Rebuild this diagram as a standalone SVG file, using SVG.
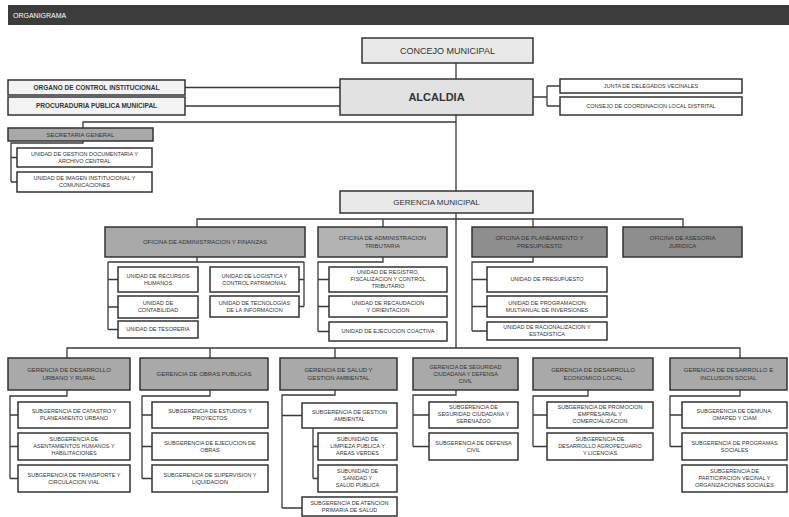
<svg xmlns="http://www.w3.org/2000/svg" width="789" height="517" viewBox="0 0 789 517">
<style>
.b{stroke:#333;stroke-width:1.5}
.w{fill:#fff}
.l1{fill:#e8e8e8}
.g1{fill:#a9a9a9}
.g2{fill:#b3b3b3}
.g3{fill:#8e8e8e}
.pl{fill:#f3f3f3}
text{font-family:"Liberation Sans",Arial,sans-serif;fill:#333;text-anchor:middle}
.s{font-size:5.5px}
.m{font-size:6px}
.c path{fill:none;stroke:#3a3a3a;stroke-width:1.3}
</style>
<rect x="0" y="0" width="789" height="517" fill="#fff"/>
<g id="header">
<rect x="8" y="5" width="781" height="20" fill="#3c3c3c"/>
<text x="13" y="18" style="font-size:7px;fill:#fff;text-anchor:start">ORGANIGRAMA</text>
</g>
<g class="c" id="connectors">
<path d="M456 63V79M456 115V191M456 213V348"/>
<path d="M185 87.5H340M185 106H340M83 128V122H456"/>
<path d="M83 141V143H11V182M11 157.5H17M11 182H17"/>
<path d="M533 97H547M547 86V106M547 86H560M547 106H560"/>
<path d="M197 227V219H683V227M383 219V227M533 219V227"/>
<path d="M197 257V262M108 262H304M108 262V329.5M108 279.5H118M108 307H118M108 329.5H118M304 262V306.5M299 279.5H304M299 306.5H304"/>
<path d="M383 257V262H318V331.5M318 279.5H329M318 306.5H329M318 331.5H329"/>
<path d="M533 257V262H472V331M472 279.5H487M472 306.5H487M472 331H487"/>
<path d="M67 358V348H740V358M210 348V358M335 348V358"/>
<path d="M67 390V396H10V478.5M10 415H18M10 446.5H18M10 478.5H18"/>
<path d="M210 390V396H142V478.5M142 415H152M142 446.5H152M142 478.5H152"/>
<path d="M335 390V395H282V508M282 415.5H302M282 508H302M313 428V478.5M313 446.5H318M313 478.5H318"/>
<path d="M456 390V395H413V446.5M413 415H429M413 446.5H429"/>
<path d="M588 390V396H533V446.5M533 415H547M533 446.5H547"/>
<path d="M740 390V396H670V446.5M670 415H682M670 446.5H682"/>
</g>
<g id="concejo"><rect class="b l1" x="362" y="38" width="171" height="25"/><text x="447.5" y="53.5" style="font-size:9px">CONCEJO MUNICIPAL</text></g>
<g id="alcaldia"><rect class="b" fill="#e2e2e2" x="340" y="79" width="193" height="36"/><text x="436.5" y="101" style="font-size:11px;font-weight:bold">ALCALDIA</text></g>
<g id="oci"><rect class="b pl" x="8" y="80" width="177" height="15"/><text x="96.5" y="90" style="font-size:6.5px;font-weight:bold">ORGANO DE CONTROL INSTITUCIONAL</text></g>
<g id="procuraduria"><rect class="b pl" x="8" y="97" width="177" height="18"/><text x="96.5" y="108.3" style="font-size:6.5px;font-weight:bold">PROCURADURIA PUBLICA MUNICIPAL</text></g>
<g id="junta"><rect class="b w" x="560" y="79" width="182" height="14"/><text class="s" x="651" y="87.9">JUNTA DE DELEGADOS VECINALES</text></g>
<g id="ccl"><rect class="b w" x="560" y="97" width="182" height="18"/><text class="s" x="651" y="107.9">CONSEJO DE COORDINACION LOCAL DISTRITAL</text></g>
<g id="secretaria"><rect class="b g1" x="8" y="128" width="145" height="13"/><text class="m" x="80.5" y="136.6">SECRETARIA GENERAL</text></g>
<g id="sg1"><rect class="b w" x="17" y="148" width="135" height="19"/><text class="s" x="84.5" y="155.9">UNIDAD DE GESTION DOCUMENTARIA Y</text><text class="s" x="84.5" y="162.9">ARCHIVO CENTRAL</text></g>
<g id="sg2"><rect class="b w" x="17" y="172" width="135" height="20"/><text class="s" x="84.5" y="180.4">UNIDAD DE IMAGEN INSTITUCIONAL Y</text><text class="s" x="84.5" y="187.4">COMUNICACIONES</text></g>
<g id="gerencia"><rect class="b l1" x="340" y="191" width="193" height="22"/><text x="436.5" y="204.8" style="font-size:8px">GERENCIA MUNICIPAL</text></g>
<g id="oaf"><rect class="b g1" x="105" y="227" width="200" height="30"/><text class="m" x="205" y="244">OFICINA DE ADMINISTRACION Y FINANZAS</text></g>
<g id="oat"><rect class="b g2" x="318" y="227" width="129" height="30"/><text class="m" x="382.5" y="240.3">OFICINA DE ADMINISTRACION</text><text class="m" x="382.5" y="247.8">TRIBUTARIA</text></g>
<g id="opp"><rect class="b g3" x="472" y="227" width="135" height="30"/><text class="m" x="539.5" y="240.3">OFICINA DE PLANEAMIENTO Y</text><text class="m" x="539.5" y="247.8">PRESUPUESTO</text></g>
<g id="oaj"><rect class="b g3" x="623" y="227" width="119" height="30"/><text class="m" x="682.5" y="240.3">OFICINA DE ASESORIA</text><text class="m" x="682.5" y="247.8">JURIDICA</text></g>
<g id="urh"><rect class="b w" x="118" y="267" width="80" height="25"/><text class="s" x="158" y="277.9">UNIDAD DE RECURSOS</text><text class="s" x="158" y="284.9">HUMANOS</text></g>
<g id="ucont"><rect class="b w" x="118" y="296" width="80" height="22"/><text class="s" x="158" y="305.4">UNIDAD DE</text><text class="s" x="158" y="312.4">CONTABILIDAD</text></g>
<g id="utes"><rect class="b w" x="118" y="321" width="80" height="17"/><text class="s" x="158" y="331.4">UNIDAD DE TESORERIA</text></g>
<g id="ulog"><rect class="b w" x="210" y="267" width="89" height="25"/><text class="s" x="254.5" y="277.9">UNIDAD DE LOGISTICA Y</text><text class="s" x="254.5" y="284.9">CONTROL PATRIMONIAL</text></g>
<g id="uti"><rect class="b w" x="210" y="296" width="89" height="21"/><text class="s" x="254.5" y="304.9">UNIDAD DE TECNOLOGIAS</text><text class="s" x="254.5" y="311.9">DE LA INFORMACION</text></g>
<g id="ureg"><rect class="b w" x="329" y="267" width="118" height="25"/><text class="s" x="388" y="274.4">UNIDAD DE REGISTRO,</text><text class="s" x="388" y="281.4">FISCALIZACION Y CONTROL</text><text class="s" x="388" y="288.4">TRIBUTARIO</text></g>
<g id="urec"><rect class="b w" x="329" y="296" width="118" height="21"/><text class="s" x="388" y="304.9">UNIDAD DE RECAUDACION</text><text class="s" x="388" y="311.9">Y ORIENTACION</text></g>
<g id="ueje"><rect class="b w" x="329" y="322" width="118" height="19"/><text class="s" x="388" y="333.4">UNIDAD DE EJECUCION COACTIVA</text></g>
<g id="upre"><rect class="b w" x="487" y="267" width="120" height="25"/><text class="s" x="547" y="281.4">UNIDAD DE PRESUPUESTO</text></g>
<g id="upmi"><rect class="b w" x="487" y="296" width="120" height="21"/><text class="s" x="547" y="304.9">UNIDAD DE PROGRAMACION</text><text class="s" x="547" y="311.9">MULTIANUAL DE INVERSIONES</text></g>
<g id="urac"><rect class="b w" x="487" y="322" width="120" height="18"/><text class="s" x="547" y="329.4">UNIDAD DE RACIONALIZACION Y</text><text class="s" x="547" y="336.4">ESTADISTICA</text></g>
<g id="gdu"><rect class="b g1" x="8" y="358" width="122" height="32"/><text class="m" x="69" y="372.3">GERENCIA DE DESARROLLO</text><text class="m" x="69" y="379.8">URBANO Y RURAL</text></g>
<g id="gop"><rect class="b g1" x="140" y="358" width="128" height="32"/><text class="m" x="204" y="376">GERENCIA DE OBRAS PUBLICAS</text></g>
<g id="gsa"><rect class="b g1" x="280" y="358" width="117" height="32"/><text class="m" x="338.5" y="372.3">GERENCIA DE SALUD Y</text><text class="m" x="338.5" y="379.8">GESTION AMBIENTAL</text></g>
<g id="gsc"><rect class="b g1" x="413" y="358" width="105" height="32"/><text class="s" x="465.5" y="369">GERENCIA DE SEGURIDAD</text><text class="s" x="465.5" y="376">CIUDADANA Y DEFENSA</text><text class="s" x="465.5" y="383">CIVIL</text></g>
<g id="gde"><rect class="b g1" x="533" y="358" width="120" height="32"/><text class="m" x="593" y="372.3">GERENCIA DE DESARROLLO</text><text class="m" x="593" y="379.8">ECONOMICO LOCAL</text></g>
<g id="gdis"><rect class="b g1" x="670" y="358" width="117" height="32"/><text class="m" x="728.5" y="372.3">GERENCIA DE DESARROLLO E</text><text class="m" x="728.5" y="379.8">INCLUSION SOCIAL</text></g>
<g id="sgc"><rect class="b w" x="18" y="402" width="112" height="26"/><text class="s" x="74" y="413.4">SUBGERENCIA DE CATASTRO Y</text><text class="s" x="74" y="420.4">PLANEAMIENTO URBANO</text></g>
<g id="sgah"><rect class="b w" x="18" y="433" width="112" height="27"/><text class="s" x="74" y="441.4">SUBGERENCIA DE</text><text class="s" x="74" y="448.4">ASENTAMIENTOS HUMANOS Y</text><text class="s" x="74" y="455.4">HABILITACIONES</text></g>
<g id="sgt"><rect class="b w" x="18" y="465" width="112" height="27"/><text class="s" x="74" y="476.9">SUBGERENCIA DE TRANSPORTE Y</text><text class="s" x="74" y="483.9">CIRCULACION VIAL</text></g>
<g id="sgep"><rect class="b w" x="152" y="402" width="116" height="26"/><text class="s" x="210" y="413.4">SUBGERENCIA DE ESTUDIOS Y</text><text class="s" x="210" y="420.4">PROYECTOS</text></g>
<g id="sgeo"><rect class="b w" x="152" y="433" width="116" height="27"/><text class="s" x="210" y="444.9">SUBGERENCIA DE EJECUCION DE</text><text class="s" x="210" y="451.9">OBRAS</text></g>
<g id="sgsl"><rect class="b w" x="152" y="465" width="116" height="27"/><text class="s" x="210" y="476.9">SUBGERENCIA DE SUPERVISION Y</text><text class="s" x="210" y="483.9">LIQUIDACION</text></g>
<g id="sgga"><rect class="b w" x="302" y="403" width="95" height="25"/><text class="s" x="349.5" y="413.9">SUBGERENCIA DE GESTION</text><text class="s" x="349.5" y="420.9">AMBIENTAL</text></g>
<g id="sulp"><rect class="b w" x="318" y="433" width="79" height="27"/><text class="s" x="357.5" y="441.4">SUBUNIDAD DE</text><text class="s" x="357.5" y="448.4">LIMPIEZA PUBLICA Y</text><text class="s" x="357.5" y="455.4">AREAS VERDES</text></g>
<g id="susa"><rect class="b w" x="318" y="465" width="79" height="27"/><text class="s" x="357.5" y="473.4">SUBUNIDAD DE</text><text class="s" x="357.5" y="480.4">SANIDAD Y</text><text class="s" x="357.5" y="487.4">SALUD PUBLICA</text></g>
<g id="sgsp"><rect class="b w" x="302" y="497" width="95" height="19"/><text class="s" x="349.5" y="504.9">SUBGERENCIA DE ATENCION</text><text class="s" x="349.5" y="511.9">PRIMARIA DE SALUD</text></g>
<g id="sgsc"><rect class="b w" x="429" y="402" width="89" height="26"/><text class="s" x="473.5" y="408.9">SUBGERENCIA DE</text><text class="s" x="473.5" y="415.9">SEGURIDAD CIUDADANA Y</text><text class="s" x="473.5" y="422.9">SERENAZGO</text></g>
<g id="sgdc"><rect class="b w" x="429" y="433" width="89" height="27"/><text class="s" x="473.5" y="444.9">SUBGERENCIA DE DEFENSA</text><text class="s" x="473.5" y="451.9">CIVIL</text></g>
<g id="sgpe"><rect class="b w" x="547" y="402" width="106" height="26"/><text class="s" x="600" y="408.9">SUBGERENCIA DE PROMOCION</text><text class="s" x="600" y="415.9">EMPRESARIAL Y</text><text class="s" x="600" y="422.9">COMERCIALIZACION</text></g>
<g id="sgda"><rect class="b w" x="547" y="433" width="106" height="27"/><text class="s" x="600" y="441.4">SUBGERENCIA DE</text><text class="s" x="600" y="448.4">DESARROLLO AGROPECUARIO</text><text class="s" x="600" y="455.4">Y LICENCIAS</text></g>
<g id="sgdem"><rect class="b w" x="682" y="402" width="105" height="26"/><text class="s" x="734.5" y="413.4">SUBGERENCIA DE DEMUNA,</text><text class="s" x="734.5" y="420.4">OMAPED Y CIAM</text></g>
<g id="sgps"><rect class="b w" x="682" y="433" width="105" height="27"/><text class="s" x="734.5" y="444.9">SUBGERENCIA DE PROGRAMAS</text><text class="s" x="734.5" y="451.9">SOCIALES</text></g>
<g id="sgpv"><rect class="b w" x="682" y="465" width="105" height="27"/><text class="s" x="734.5" y="473.4">SUBGERENCIA DE</text><text class="s" x="734.5" y="480.4">PARTICIPACION VECINAL Y</text><text class="s" x="734.5" y="487.4">ORGANIZACIONES SOCIALES</text></g>
</svg>
